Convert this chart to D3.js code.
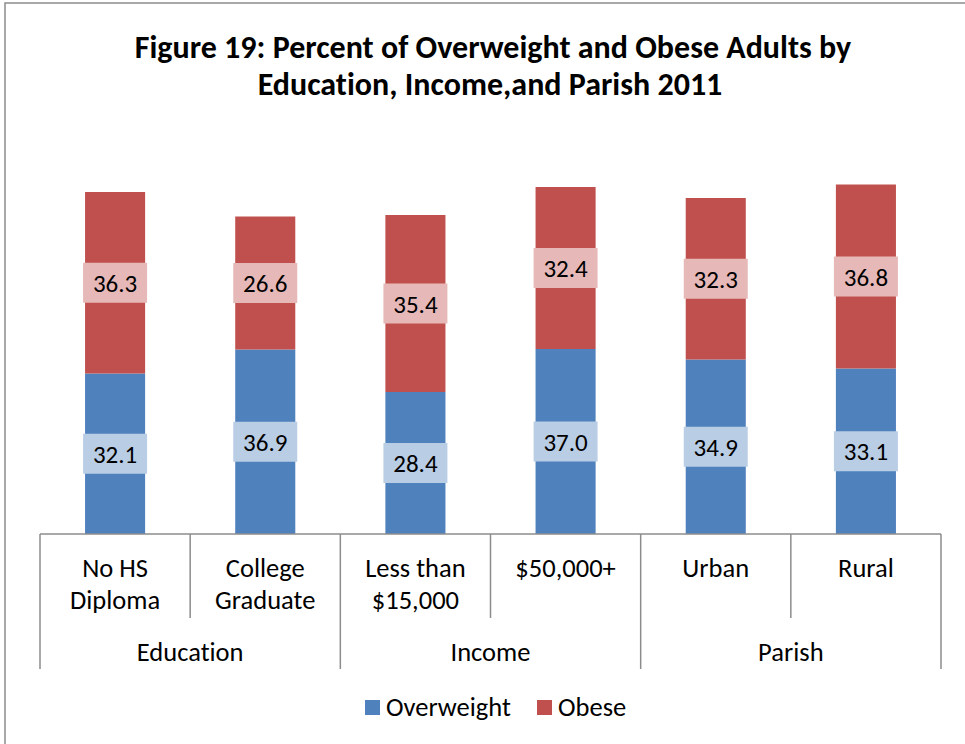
<!DOCTYPE html>
<html>
<head>
<meta charset="utf-8">
<script src="https://cdn.jsdelivr.net/npm/d3@7/dist/d3.min.js"></script>
<style>
  html, body { margin: 0; padding: 0; background: #fff; }
  svg { display: block; font-family: Carlito, Lato, "Open Sans", sans-serif; }
  svg text { font-variant-ligatures: none; font-feature-settings: "liga" 0, "clig" 0, "dlig" 0; letter-spacing: 0.01px; }
</style>
</head>
<body>
<svg id="chart" width="965" height="744"></svg>
<script>
// Percent of overweight and obese adults, 2011
const categories = ["No HS|Diploma", "College|Graduate", "Less than|$15,000", "$50,000+", "Urban", "Rural"];
const groups = ["Education", "Income", "Parish"];
const overweight = [32.1, 36.9, 28.4, 37.0, 34.9, 33.1];
const obese = [36.3, 26.6, 35.4, 32.4, 32.3, 36.8];
const seriesNames = ["Overweight", "Obese"];

const colors = { Overweight: "#4F81BD", Obese: "#C0504D" };
const labelFill = { Overweight: "#B9CDE5", Obese: "#E6B9B8" };

const svg = d3.select("#chart");
const W = 965, H = 744;

// outer frame of the chart area
svg.append("rect")
  .attr("x", 5).attr("y", 3)
  .attr("width", W + 10).attr("height", H + 10)
  .attr("fill", "#fff").attr("stroke", "#8c8c8c").attr("stroke-width", 1.5);

// title
const title = svg.append("text")
  .attr("text-anchor", "middle")
  .attr("font-weight", "bold")
  .attr("font-size", 32)
  .attr("fill", "#000");
title.append("tspan").attr("x", 493).attr("y", 58).text("Figure 19: Percent of Overweight and Obese Adults by");
title.append("tspan").attr("x", 490).attr("y", 95).text("Education, Income,and Parish 2011");

const plot = { left: 40, right: 941, top: 134, bottom: 534 };

const x = d3.scaleBand()
  .domain(categories)
  .range([plot.left, plot.right])
  .paddingInner(0.6)
  .paddingOuter(0.3);

const y = d3.scaleLinear()
  .domain([0, 80])
  .range([plot.bottom, plot.top]);

const rows = categories.map((c, i) => ({ cat: c, Overweight: overweight[i], Obese: obese[i] }));
const stacked = d3.stack().keys(seriesNames)(rows);

// stacked bars
const layers = svg.append("g").selectAll("g")
  .data(stacked)
  .join("g")
  .attr("fill", d => colors[d.key]);

layers.selectAll("rect")
  .data(d => d.map(s => ({ s, key: d.key })))
  .join("rect")
  .attr("x", d => x(d.s.data.cat))
  .attr("width", x.bandwidth())
  .attr("y", d => y(d.s[1]))
  .attr("height", d => y(d.s[0]) - y(d.s[1]));

// value labels in shaded boxes
const boxW = 64, boxH = 40;
const labels = svg.append("g").selectAll("g")
  .data(stacked.flatMap(d => d.map(s => ({ s, key: d.key }))))
  .join("g")
  .attr("transform", d => `translate(${x(d.s.data.cat) + x.bandwidth() / 2},${(y(d.s[0]) + y(d.s[1])) / 2})`);

labels.append("rect")
  .attr("x", -boxW / 2).attr("y", -boxH / 2)
  .attr("width", boxW).attr("height", boxH)
  .attr("fill", d => labelFill[d.key]);

labels.append("text")
  .attr("text-anchor", "middle")
  .attr("dy", "0.36em")
  .attr("font-size", 25)
  .attr("fill", "#000")
  .text(d => (d.s[1] - d.s[0]).toFixed(1));

// multi-level category axis
const axisColor = "#8c8c8c";
const step = x.step();
const edge = i => plot.left + i * step;
const axis = svg.append("g").attr("stroke", axisColor).attr("stroke-width", 1.5);

axis.append("line")
  .attr("x1", plot.left).attr("x2", plot.right)
  .attr("y1", plot.bottom).attr("y2", plot.bottom);

d3.range(categories.length + 1).forEach(i => {
  const isGroupEdge = i % 2 === 0;
  axis.append("line")
    .attr("x1", edge(i)).attr("x2", edge(i))
    .attr("y1", plot.bottom)
    .attr("y2", isGroupEdge ? 669 : 618);
});

// category labels
svg.append("g").selectAll("text")
  .data(categories)
  .join("text")
  .attr("text-anchor", "middle")
  .attr("font-size", 26.5)
  .attr("fill", "#000")
  .each(function (c) {
    const lines = c.split("|");
    const t = d3.select(this);
    lines.forEach((ln, k) => {
      t.append("tspan")
        .attr("x", x(c) + x.bandwidth() / 2)
        .attr("y", 577 + k * 32)
        .text(ln);
    });
  });

// group labels
svg.append("g").selectAll("text")
  .data(groups)
  .join("text")
  .attr("text-anchor", "middle")
  .attr("font-size", 26.5)
  .attr("fill", "#000")
  .attr("x", (g, i) => edge(i * 2) + step)
  .attr("y", 661)
  .text(g => g);

// legend
const legend = svg.append("g");
const legendItems = [
  { key: "Overweight", x: 365 },
  { key: "Obese", x: 537 }
];
legendItems.forEach(item => {
  legend.append("rect")
    .attr("x", item.x).attr("y", 700)
    .attr("width", 15).attr("height", 15)
    .attr("fill", colors[item.key]);
  legend.append("text")
    .attr("x", item.x + 21).attr("y", 716)
    .attr("font-size", 26.5)
    .attr("fill", "#000")
    .text(item.key);
});
</script>
</body>
</html>
